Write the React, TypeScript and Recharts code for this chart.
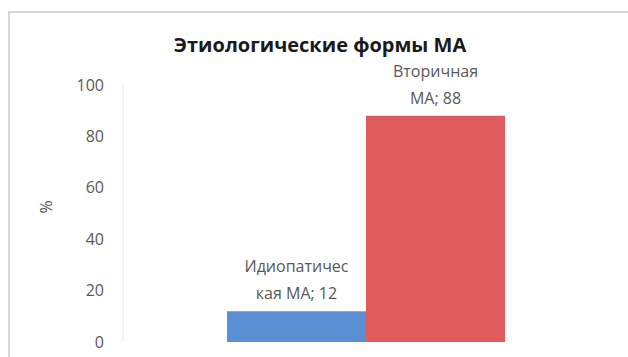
import { BarChart, Bar, XAxis, YAxis, LabelList } from "recharts";

const categories = ["Этиологические формы МА"];
const idiopathic = [12];
const secondary = [88];
const yTicks = [0, 20, 40, 60, 80, 100];
// Excel wrapped the data labels like this
const idioLabel = ["Идиопатичес", "кая МА;"];
const secLabel = ["Вторичная", "МА;"];

const data = categories.map((c, i) => ({ name: c, idio: idiopathic[i], sec: secondary[i] }));

const FONT = "'Open Sans', sans-serif";
const GREY = "#595959";

function twoLine(lines: string[]) {
  // eslint-disable-next-line @typescript-eslint/no-explicit-any
  return function Lbl({ x, y, width, value }: any) {
    const cx = x + width / 2;
    return (
      <text x={cx} y={y} textAnchor="middle" fill={GREY} style={{ fontSize: 16, fontFamily: FONT }}>
        <tspan x={cx} dy={-39}>{lines[0]}</tspan>
        <tspan x={cx} dy={27}>{`${lines[1]} ${value}`}</tspan>
      </text>
    );
  };
}

export default function App() {
  return (
    <div style={{ position: "absolute", left: 0, top: 0, width: 628, height: 357, background: "#fff", overflow: "hidden" }}>
      {/* chart frame, cut off at right and bottom */}
      <div style={{
        position: "absolute", left: 8, top: 11, width: 640, height: 360,
        borderLeft: "2px solid #d6d6d6", borderTop: "2px solid #d6d6d6",
      }} />
      <div style={{
        position: "absolute", left: 0, top: 32, width: 640, textAlign: "center",
        fontFamily: FONT, fontWeight: 700, fontSize: 20, lineHeight: "26px", color: "#1a1a1a",
      }}>
        Этиологические формы МА
      </div>
      <div style={{ position: "absolute", left: 0, top: 0 }}>
        <BarChart width={628} height={357} data={data} barGap={0} barCategoryGap={104}
          margin={{ top: 85, right: 19, bottom: 15, left: 0 }}>
          <XAxis dataKey="name" hide />
          <YAxis domain={[0, 100]} ticks={yTicks} width={123} tickLine={false} tickSize={0} tickMargin={19}
            axisLine={{ stroke: "#e8e8e8" }}
            tick={{ fill: GREY, fontSize: 16, fontFamily: FONT }}
            label={{ value: "%", angle: -90, position: "insideLeft", offset: 46, fill: GREY, fontSize: 16, fontFamily: FONT }} />
          <Bar dataKey="idio" fill="#5b8fd3" isAnimationActive={false}>
            <LabelList dataKey="idio" content={twoLine(idioLabel)} />
          </Bar>
          <Bar dataKey="sec" fill="#e05c5c" isAnimationActive={false}>
            <LabelList dataKey="sec" content={twoLine(secLabel)} />
          </Bar>
        </BarChart>
      </div>
    </div>
  );
}
